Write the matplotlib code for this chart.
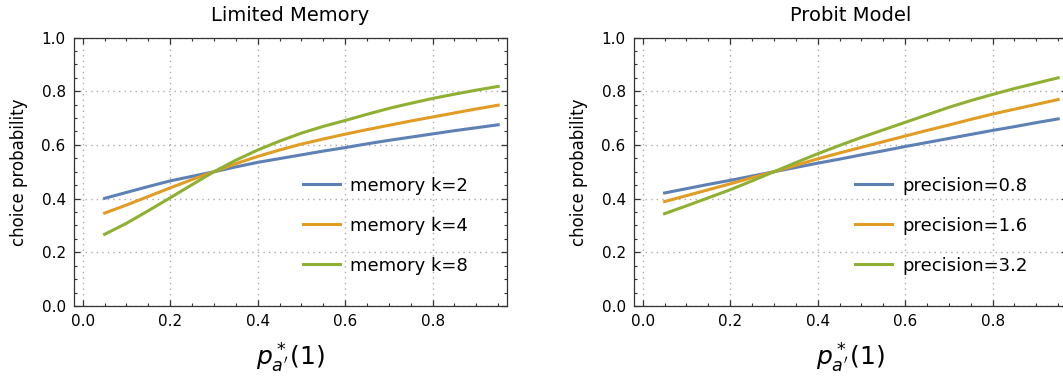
import numpy as np
import matplotlib.pyplot as plt
from matplotlib.ticker import MultipleLocator

# x positions p*_a'(1)
x = [0.05, 0.10, 0.15, 0.20, 0.25, 0.30, 0.35, 0.40, 0.45, 0.50,
     0.55, 0.60, 0.65, 0.70, 0.75, 0.80, 0.85, 0.90, 0.95]

# Limited Memory
mem_k2 = [0.401, 0.423, 0.445, 0.466, 0.483, 0.500, 0.518, 0.535, 0.549, 0.563,
          0.577, 0.590, 0.604, 0.617, 0.629, 0.641, 0.653, 0.664, 0.675]
mem_k4 = [0.346, 0.376, 0.408, 0.440, 0.471, 0.500, 0.530, 0.557, 0.581, 0.603,
          0.622, 0.640, 0.657, 0.673, 0.689, 0.704, 0.719, 0.734, 0.748]
mem_k8 = [0.267, 0.308, 0.355, 0.403, 0.452, 0.500, 0.543, 0.581, 0.614, 0.644,
          0.669, 0.691, 0.714, 0.736, 0.755, 0.773, 0.789, 0.804, 0.818]

# Probit Model
prec_08 = [0.421, 0.437, 0.453, 0.468, 0.484, 0.500, 0.516, 0.532, 0.547, 0.563,
           0.578, 0.594, 0.609, 0.624, 0.639, 0.654, 0.668, 0.683, 0.697]
prec_16 = [0.389, 0.411, 0.433, 0.455, 0.478, 0.500, 0.524, 0.548, 0.570, 0.591,
           0.612, 0.633, 0.654, 0.674, 0.695, 0.715, 0.733, 0.751, 0.769]
prec_32 = [0.344, 0.373, 0.403, 0.433, 0.466, 0.500, 0.534, 0.567, 0.598, 0.628,
           0.656, 0.684, 0.712, 0.740, 0.765, 0.788, 0.810, 0.830, 0.850]

mem_labels = ['memory k=2', 'memory k=4', 'memory k=8']
prec_labels = ['precision=0.8', 'precision=1.6', 'precision=3.2']
colors = ['#5E81B5', '#E19C24', '#8FB032']

fig = plt.figure(figsize=(10.63, 3.79), dpi=100)
ax1 = fig.add_axes([0.0696, 0.1926, 0.4073, 0.7084])
ax2 = fig.add_axes([0.5964, 0.1926, 0.4073, 0.7084])


def style(ax, title, series, labels):
    for y, lab, c in zip(series, labels, colors):
        ax.plot(x, y, color=c, linewidth=2.2, label=lab)
    ax.set_xlim(-0.02, 0.97)
    ax.set_ylim(0, 1)
    ax.xaxis.set_major_locator(MultipleLocator(0.2))
    ax.xaxis.set_minor_locator(MultipleLocator(0.05))
    ax.yaxis.set_major_locator(MultipleLocator(0.2))
    ax.yaxis.set_minor_locator(MultipleLocator(0.05))
    ax.tick_params(which='both', direction='in', top=True, right=True,
                   labelsize=11, color='#333333')
    ax.tick_params(which='major', length=4.3, width=0.9, pad=6)
    ax.tick_params(which='minor', length=2.5, width=0.8)
    for s in ax.spines.values():
        s.set_color('#333333')
        s.set_linewidth(0.9)
    ax.grid(True, which='major', color='#aaaaaa', linewidth=1.0,
            linestyle=(0, (1.0, 3.0)))
    ax.set_title(title, fontsize=14, pad=12)
    ax.set_ylabel('choice probability', fontsize=12, labelpad=10)
    ax.set_xlabel(r"$p^*_{a'}(1)$", fontsize=18, labelpad=8)
    ax.legend(loc='lower right', bbox_to_anchor=(0.93, 0.083), frameon=False,
              fontsize=13, borderpad=0, handlelength=2.05, handletextpad=0.55,
              labelspacing=1.22)


style(ax1, 'Limited Memory', [mem_k2, mem_k4, mem_k8], mem_labels)
style(ax2, 'Probit Model', [prec_08, prec_16, prec_32], prec_labels)

fig.savefig('out.png', dpi=100)
